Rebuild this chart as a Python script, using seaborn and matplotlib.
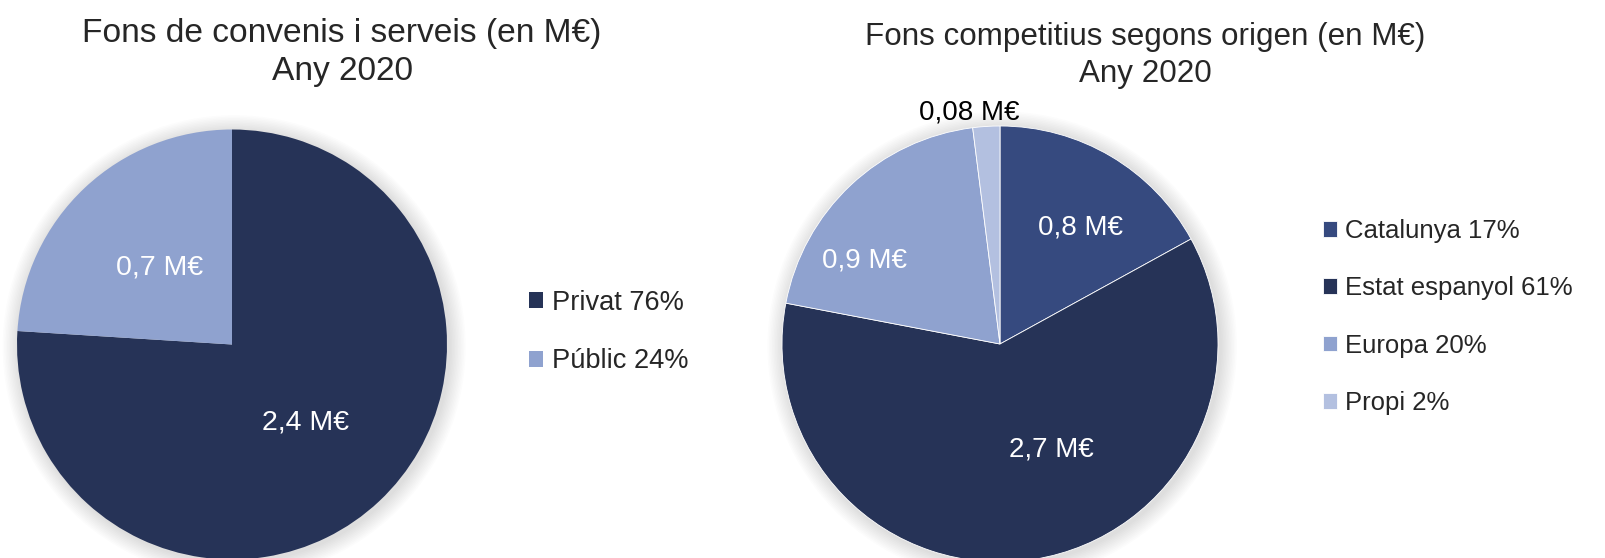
import numpy as np
import matplotlib
matplotlib.use("Agg")
import matplotlib.pyplot as plt
import seaborn as sns
from matplotlib.patches import Circle

# ---------------- data ----------------
left_title = "Fons de convenis i serveis (en M€)"
left_sub = "Any 2020"
left_cats = ["Privat", "Públic"]
left_pct = [76, 24]
left_vals = ["2,4 M€", "0,7 M€"]
left_colors = ["#263357", "#8FA2CF"]

right_title = "Fons competitius segons origen (en M€)"
right_sub = "Any 2020"
right_cats = ["Catalunya", "Estat espanyol", "Europa", "Propi"]
right_pct = [17, 61, 20, 2]
right_vals = ["0,8 M€", "2,7 M€", "0,9 M€", "0,08 M€"]
right_colors = ["#364A7F", "#263357", "#8FA2CF", "#B3C0E0"]

# ---------------- style ----------------
sns.set_theme(style="white")
plt.rcParams['font.family'] = ['Liberation Sans', 'DejaVu Sans']

W, H = 1605, 558
fig = plt.figure(figsize=(W / 100, H / 100), dpi=100)


def pie_axes(cx, cy, r):
    ax = fig.add_axes([(cx - r) / W, (H - cy - r) / H, 2 * r / W, 2 * r / H])
    return ax


def add_shadow(ax):
    for k in range(1, 12):
        ax.add_patch(Circle((0.01, -0.01), 1 + 0.007 * k, facecolor="black",
                            alpha=0.010, lw=0, zorder=0, clip_on=False))


def draw_pie(ax, pct, colors, vals, placements, text_colors, fs, lw):
    add_shadow(ax)
    wedges, _ = ax.pie(pct, colors=colors, startangle=90, counterclock=False,
                       radius=1, wedgeprops=dict(edgecolor="white", linewidth=lw))
    for w in wedges:
        w.set_clip_on(False)
    for w, txt, (dist, dang), tc in zip(wedges, vals, placements, text_colors):
        mid = np.deg2rad((w.theta1 + w.theta2) / 2 + dang)
        ax.text(dist * np.cos(mid), dist * np.sin(mid), txt, ha="center", va="center",
                color=tc, fontsize=fs, clip_on=False)
    ax.set_xlim(-1, 1)
    ax.set_ylim(-1, 1)
    ax.set_aspect("auto")
    ax.set_axis_off()
    return wedges


# left pie
axL = pie_axes(232, 344.5, 215)
wL = draw_pie(axL, left_pct, left_colors, left_vals,
              [(0.5, 0), (0.49, 0)], ["white", "white"], 20.5, 0)
axL.legend(wL, [f"{c} {p}%" for c, p in zip(left_cats, left_pct)],
           loc="center left", bbox_to_anchor=(529 / W, 1 - 332 / H),
           bbox_transform=fig.transFigure, frameon=False, fontsize=19.6,
           handlelength=0.53, handleheight=0.53, handletextpad=0.3,
           labelspacing=1.21, borderpad=0, borderaxespad=0)

# right pie
axR = pie_axes(1000, 344, 218)
wR = draw_pie(axR, right_pct, right_colors, right_vals,
              [(0.65, -4), (0.54, 17), (0.73, 15), (1.07, 4)],
              ["white", "white", "white", "black"], 20, 0.6)
axR.legend(wR, [f"{c} {p}%" for c, p in zip(right_cats, right_pct)],
           loc="center left", bbox_to_anchor=(1323 / W, 1 - 317 / H),
           bbox_transform=fig.transFigure, frameon=False, fontsize=18.5,
           handlelength=0.55, handleheight=0.55, handletextpad=0.3,
           labelspacing=1.30, borderpad=0, borderaxespad=0)

# titles
fig.text(342 / W, 1 - 42 / H, left_title, ha="center", va="baseline", fontsize=24.1)
fig.text(342 / W, 1 - 80 / H, left_sub, ha="center", va="baseline", fontsize=24.1)
fig.text(1145 / W, 1 - 45 / H, right_title, ha="center", va="baseline", fontsize=22.6)
fig.text(1145 / W, 1 - 82 / H, right_sub, ha="center", va="baseline", fontsize=22.6)

fig.savefig("out.png", dpi=100, facecolor="white")
